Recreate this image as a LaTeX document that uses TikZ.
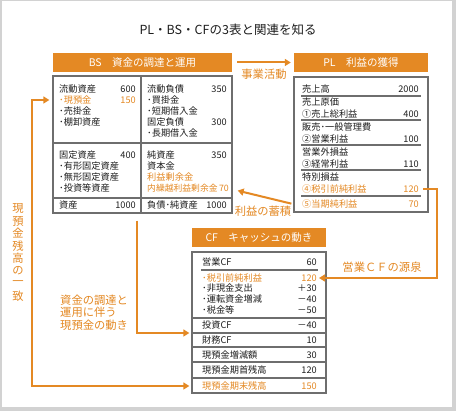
\documentclass[tikz,border=0pt]{standalone}
\usepackage{fontspec}
\setmainfont{Noto Sans CJK JP}
\usetikzlibrary{positioning,arrows.meta}
\definecolor{orng}{RGB}{228,137,36}
\definecolor{frame}{RGB}{110,110,110}
\definecolor{ink}{RGB}{30,30,30}
\tikzset{
  head/.style={fill=orng,text=white,font=\fontsize{10.5}{12}\selectfont,minimum height=19pt,inner sep=0},
  tbl/.style={draw=frame,line width=1.3pt,inner sep=0},
  txt/.style={anchor=west,inner sep=0,text=ink,font=\fontsize{9.2}{11}\selectfont},
  num/.style={anchor=east,inner sep=0,text=ink,font=\fontsize{9.2}{11}\selectfont},
  hot/.style={text=orng},
  note/.style={text=orng,font=\fontsize{11.3}{12.5}\selectfont,inner sep=0},
  rule/.style={draw=frame,line width=1.3pt},
  flow/.style={draw=orng,line width=2pt,-{Triangle[length=6pt,width=7pt]}}
}
\begin{document}
\begin{tikzpicture}[x=1pt,y=-1pt]
\useasboundingbox (0,0) rectangle (456,411);
\fill[gray!35] (0,0) rectangle (456,411);
\fill[white] (1.5,1.5) rectangle (451.5,407.5);

\node[text=ink,font=\fontsize{12.5}{14}\selectfont] (title) at (228,30) {PL・BS・CFの3表と関連を知る};

% headers
\node[head,minimum width=179pt] (bshead) at (142.5,62.5) {BS\quad 資金の調達と運用};
\node[head,minimum width=134pt] (plhead) at (361,62.5) {PL\quad 利益の獲得};
\node[head,minimum width=134pt] (cfhead) at (259,237.5) {CF\quad キャッシュの動き};

% BS
\node[tbl,minimum width=179pt,minimum height=137pt] (bs) at (142.5,144.5) {};
\draw[rule] (141,76) -- (141,213);
\draw[rule] (53,143) -- (232,143);
\draw[rule] (53,198) -- (232,198);
\node[txt] (bsca) at (59,89) {流動資産};
\node[num] (bscan) at (136,89) {600};
\node[txt,hot] (bscash) at (59,100) {･現預金};
\node[num,hot] (bscashn) at (136,100) {150};
\node[txt] (bsar) at (59,111) {･売掛金};
\node[txt] (bsinv) at (59,122) {･棚卸資産};
\node[txt] (bscl) at (147,89) {流動負債};
\node[num] (bscln) at (227,89) {350};
\node[txt] (bsap) at (147,100) {･買掛金};
\node[txt] (bsst) at (147,111) {･短期借入金};
\node[txt] (bsfl) at (147,122) {固定負債};
\node[num] (bsfln) at (227,122) {300};
\node[txt] (bslt) at (147,133) {･長期借入金};
\node[txt] (bsfa) at (59,155) {固定資産};
\node[num] (bsfan) at (136,155) {400};
\node[txt] (bstan) at (59,166) {･有形固定資産};
\node[txt] (bsint) at (59,177) {･無形固定資産};
\node[txt] (bsinvs) at (59,188) {･投資等資産};
\node[txt] (bsna) at (147,155) {純資産};
\node[num] (bsnan) at (227,155) {350};
\node[txt] (bscap) at (147,166) {資本金};
\node[txt,hot] (bsre) at (147,177) {利益剰余金};
\node[txt,hot,font=\fontsize{8.8}{11}\selectfont] (bsret) at (147,188) {内繰越利益剰余金\,70};
\node[txt] (bsta) at (59,205) {資産};
\node[num] (bstan) at (136,205) {1000};
\node[txt] (bstl) at (147,205) {負債･純資産};
\node[num] (bstln) at (227,205) {1000};

% PL
\node[tbl,minimum width=134pt,minimum height=135pt] (pl) at (361,144.5) {};
\foreach \y in {96,120,145,170,196} \draw[rule] (301,\y) -- (421,\y);
\node[txt] (plsale) at (302,89) {売上高};
\node[num] (plsalen) at (419,89) {2000};
\node[txt] (plcost) at (302,102) {売上原価};
\node[txt] (plgross) at (302,114) {①売上総利益};
\node[num] (plgrossn) at (419,114) {400};
\node[txt] (plsga) at (302,127) {販売･一般管理費};
\node[txt] (plop) at (302,139) {②営業利益};
\node[num] (plopn) at (419,139) {100};
\node[txt] (plnop) at (302,152) {営業外損益};
\node[txt] (plord) at (302,164) {③経常利益};
\node[num] (plordn) at (419,164) {110};
\node[txt] (plext) at (302,177) {特別損益};
\node[txt,hot] (pltax) at (302,189) {④税引前純利益};
\node[num,hot] (pltaxn) at (419,189) {120};
\node[txt,hot] (plnet) at (302,204) {⑤当期純利益};
\node[num,hot] (plnetn) at (419,204) {70};

% CF
\node[tbl,minimum width=134pt,minimum height=141pt] (cf) at (259,322.5) {};
\draw[rule] (201,270) -- (318,270);
\foreach \y in {318,333,347,362,378} \draw[rule] (192,\y) -- (326,\y);
\node[txt] (cfop) at (202,262) {営業CF};
\node[num] (cfopn) at (317,262) {60};
\node[txt,hot] (cftax) at (202,278) {･税引前純利益};
\node[num,hot] (cftaxn) at (317,278) {120};
\node[txt] (cfnc) at (202,288) {･非現金支出};
\node[num] (cfncn) at (317,288) {＋30};
\node[txt] (cfwc) at (202,299) {･運転資金増減};
\node[num] (cfwcn) at (317,299) {－40};
\node[txt] (cftx) at (202,310) {･税金等};
\node[num] (cftxn) at (317,310) {－50};
\node[txt] (cfinv) at (202,325) {投資CF};
\node[num] (cfinvn) at (317,325) {－40};
\node[txt] (cffin) at (202,340) {財務CF};
\node[num] (cffinn) at (317,340) {10};
\node[txt] (cfchg) at (202,355) {現預金増減額};
\node[num] (cfchgn) at (317,355) {30};
\node[txt] (cfopen) at (202,370) {現預金期首残高};
\node[num] (cfopenn) at (317,370) {120};
\node[txt,hot] (cfclose) at (202,386) {現預金期末残高};
\node[num,hot] (cfclosen) at (317,386) {150};

% connectors
\coordinate (cfmid) at (cf.west |- 0,333);
\coordinate (cfin) at (cf.west |- cfclose);
\coordinate (bsin) at (bs.west |- bscash);
\draw[flow] ([xshift=5pt]bshead.east) -- ([xshift=-3pt]plhead.west)
  node[midway,below=6pt,note] (bizlbl) {事業活動};
\draw[flow] ([xshift=-2pt,yshift=9pt]pl.south west) -- ([xshift=5pt,yshift=23pt]bs.south east);
\node[note] (keeplbl) at (263,211) {利益の蓄積};
\draw[flow] ([xshift=4pt]pltaxn.east) -- ++(14,0) |- ([xshift=2pt]cftaxn.east);
\node[note] (srclbl) at (382,267) {営業ＣＦの源泉};
\draw[flow] ([xshift=-5.5pt,yshift=-7pt]bs.south) |- ([xshift=-2pt]cfmid);
\node[note,align=left,anchor=west] (movelbl) at (60,312.5) {資金の調達と\\運用に伴う\\現預金の動き};
\draw[flow,{Triangle[length=6pt,width=7pt]}-{Triangle[length=6pt,width=7pt]}]
  ([xshift=-3pt]bsin) -- ++(-17,0) |- ([xshift=-2pt]cfin);
\foreach \c [count=\i] in {現,預,金,残,高,の,一,致}
  \node[note] (match\i) at (18,{196+12.5*\i}) {\c};
\end{tikzpicture}
\end{document}
